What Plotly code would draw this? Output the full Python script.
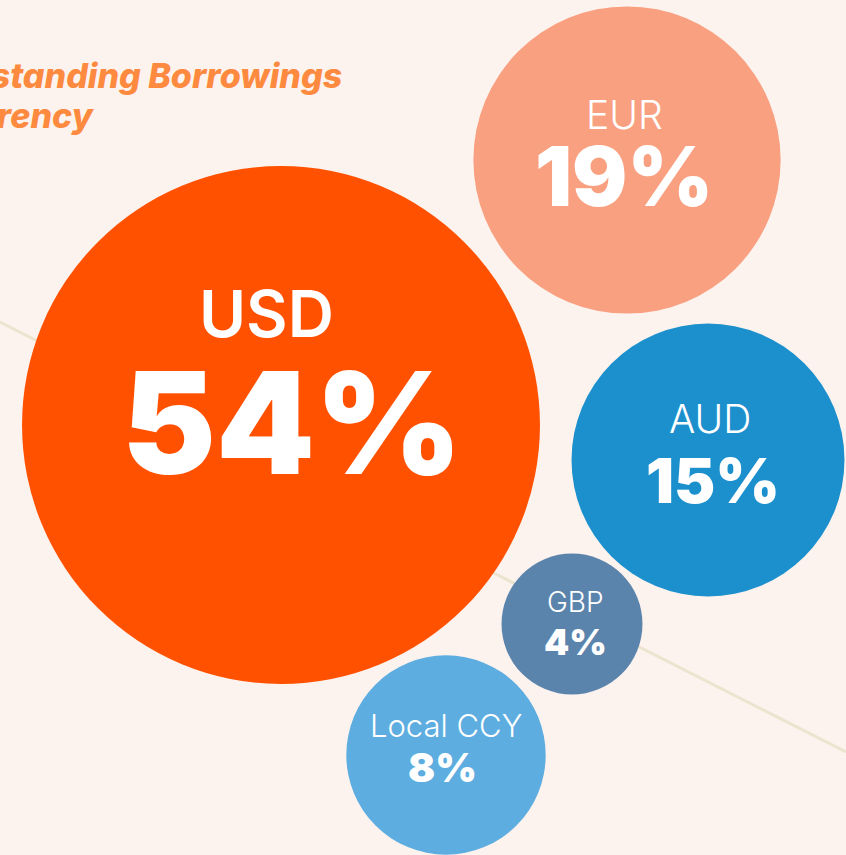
import plotly.graph_objects as go

# data
currencies = ["USD", "EUR", "AUD", "GBP", "Local CCY"]
shares = [54, 19, 15, 4, 8]
share_labels = ["54%", "19%", "15%", "4%", "8%"]

# layout of the bubbles (pixel space, y down)
bubble_x = [281, 627, 708, 572, 446]
bubble_y = [425, 160, 460, 624, 755]
colors = ["#FF5100", "#F9A081", "#1C90CD", "#5B84AD", "#5DADE0"]

label_size = [64, 39, 39, 28, 31]
label_weight = [600, 300, 300, 300, 300]
label_shift = [112, 46, 42, 22, 30]
label_dx = [-15, -3, 2, 3, 0]
pct_size = [141, 82, 62, 36, 40]
pct_shift = [3, -16, -20, -18, -12]
pct_dx = [11, -3, 5, 3, -4]

W, H = 846, 855
BG = "#FDF3EE"
TITLE = "#FD8A3F"
FONT = "Inter"

fig = go.Figure()

fig.add_trace(
    go.Scatter(
        x=bubble_x,
        y=bubble_y,
        mode="markers",
        marker=dict(
            size=shares,
            sizemode="area",
            sizeref=1 / (2 * 1242),
            color=colors,
            opacity=1,
            line=dict(width=0),
        ),
        text=currencies,
        hovertemplate="%{text}: %{marker.size}%<extra></extra>",
    )
)

# currency label + share inside each bubble
for i, cur in enumerate(currencies):
    fig.add_annotation(
        x=bubble_x[i], y=bubble_y[i], xshift=label_dx[i], yshift=label_shift[i],
        text=cur, showarrow=False,
        font=dict(family=FONT, size=label_size[i], color="white",
                  weight=label_weight[i]),
    )
    fig.add_annotation(
        x=bubble_x[i], y=bubble_y[i], xshift=pct_dx[i], yshift=pct_shift[i],
        text=share_labels[i], showarrow=False,
        font=dict(family=FONT, size=pct_size[i], color="white", weight=900),
    )

# title, cut off at the left edge as in the source
fig.add_annotation(
    x=344, y=75, xanchor="right", yanchor="middle",
    text="Outstanding Borrowings", showarrow=False,
    font=dict(family=FONT, size=34, color=TITLE, weight=800, style="italic"),
)
fig.add_annotation(
    x=97, y=115, xanchor="right", yanchor="middle",
    text="by Currency", showarrow=False,
    font=dict(family=FONT, size=34, color=TITLE, weight=800, style="italic"),
)

# faint diagonal guide line behind bubbles
fig.add_shape(
    type="line", x0=0, y0=322, x1=W, y1=752,
    line=dict(color="#ECE4CF", width=3), layer="below",
)

fig.update_xaxes(range=[0, W], visible=False, fixedrange=True)
fig.update_yaxes(range=[H, 0], visible=False, fixedrange=True)
fig.update_layout(
    width=W, height=H,
    margin=dict(l=0, r=0, t=0, b=0),
    paper_bgcolor=BG,
    plot_bgcolor=BG,
    showlegend=False,
)

fig.write_html(
    "out.html",
    config={"displayModeBar": False},
    post_script="document.body.style.margin='0';",
)
